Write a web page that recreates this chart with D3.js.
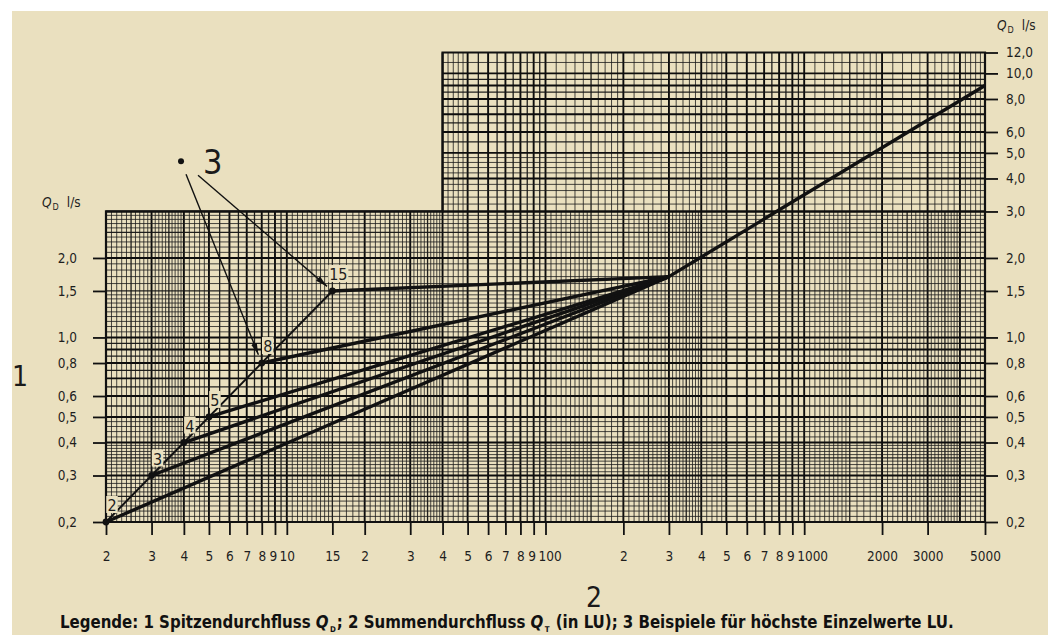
<!DOCTYPE html>
<html>
<head>
<meta charset="utf-8">
<script src="https://cdn.jsdelivr.net/npm/d3@7"></script>
<style>
  html, body { margin: 0; padding: 0; background: #fff; }
  svg { display: block; }
  .tick text { font-family: 'DejaVu Sans Condensed', 'Liberation Sans Narrow', sans-serif; font-size: 13.5px; fill: #1e1e1e; }
</style>
</head>
<body>
<svg id="chart" width="1056" height="635"></svg>
<script>
// values
const startLU = [2, 3, 4, 5, 8, 15];
const startQ = [0.2, 0.3, 0.4, 0.5, 0.8, 1.5];
const startLabels = ['2', '3', '4', '5', '8', '15'];
const joinLU = 300;
const joinQ = 1.7;
const endLU = 5000;
const endQ = 9.0;

const xTickValues = [2, 3, 4, 5, 6, 7, 8, 9, 10, 15, 20, 30, 40, 50, 60, 70, 80, 90, 100,
  200, 300, 400, 500, 600, 700, 800, 900, 1000, 2000, 3000, 5000];
const xTickLabels = ['2', '3', '4', '5', '6', '7', '8', '9', '10', '15', '2', '3', '4', '5', '6', '7', '8', '9', '100',
  '2', '3', '4', '5', '6', '7', '8', '9', '1000', '2000', '3000', '5000'];
const leftTicks = [0.2, 0.3, 0.4, 0.5, 0.6, 0.8, 1.0, 1.5, 2.0];
const rightTicks = [0.2, 0.3, 0.4, 0.5, 0.6, 0.8, 1.0, 1.5, 2.0, 3.0, 4.0, 5.0, 6.0, 8.0, 10.0, 12.0];

// annotation "3" (data coords of the marker dot)
const noteLU = 3.9;
const noteQ = 4.65;
const notePoints = [8, 15];

// legend pieces: [text, kind]
const legendParts = [
  ['Legende: 1 Spitzendurchfluss', 'n'], ['Q', 'i'], ['D', 's'], ['; 2 Summendurchfluss', 'n'],
  ['Q', 'i'], ['T', 's'], [' (in LU); 3 Beispiele für höchste Einzelwerte LU.', 'n']
];

const BG = '#eae0bf';
const INK = '#111';
const FONT = "'DejaVu Sans Condensed', 'Liberation Sans Narrow', sans-serif";

const svg = d3.select('#chart');
svg.append('rect').attr('x', 12).attr('y', 11).attr('width', 1036).attr('height', 624).attr('fill', BG);

const x = d3.scaleLog().domain([2, 5000]).range([106, 985]);
const y = d3.scaleLog().domain([0.2, 12]).range([522, 52.5]);

const LU_SPLIT = 40; // left edge of the tall part
const Q_SPLIT = 3; // top of the low part

// log paper values between lo and hi, steps per mantissa band
const DENSE = [[1, 1.5, 0.05], [1.5, 2, 0.1], [2, 4, 0.1], [4, 5, 0.2], [5, 10, 0.5]];
const COARSE = [[1, 2, 0.1], [2, 5, 0.2], [5, 10, 0.5]];
const paperValues = (lo, hi, steps) => {
  const out = [];
  for (let e = -1; e <= 4; e++) {
    const p = Math.pow(10, e);
    steps.forEach(([a, b, s]) => {
      const n = Math.round((b - a) / s);
      for (let k = 0; k < n; k++) {
        const m = +(a + k * s).toFixed(3);
        const v = +(m * p).toPrecision(6);
        if (v >= lo - 1e-9 && v <= hi + 1e-9) out.push({ v, m });
      }
    });
  }
  return out;
};

const lineStyle = (m) => {
  if (Math.abs(m - Math.round(m)) < 1e-6) return { w: 1.9, c: '#0d0d0d', o: 1 };
  if (Math.abs(m * 2 - Math.round(m * 2)) < 1e-6) return { w: 1.3, c: '#151515', o: 0.95 };
  return { w: 1, c: '#1c1c1c', o: 0.8 };
};

const grid = svg.append('g').attr('class', 'grid');

const vLine = (d, q0, q1) => {
  const st = lineStyle(d.m);
  grid.append('line')
    .attr('x1', x(d.v)).attr('x2', x(d.v))
    .attr('y1', y(q0)).attr('y2', y(q1))
    .attr('stroke', st.c).attr('stroke-width', st.w).attr('stroke-opacity', st.o);
};
const hLine = (d, l0, l1) => {
  const st = lineStyle(d.m);
  grid.append('line')
    .attr('x1', x(l0)).attr('x2', x(l1))
    .attr('y1', y(d.v)).attr('y2', y(d.v))
    .attr('stroke', st.c).attr('stroke-width', st.w).attr('stroke-opacity', st.o);
};

// low part: dense paper
paperValues(2, 5000, DENSE).forEach((d) => vLine(d, 0.2, Q_SPLIT));
paperValues(0.2, Q_SPLIT, DENSE).forEach((d) => hLine(d, 2, 5000));
// tall part: coarser paper
paperValues(LU_SPLIT, 5000, COARSE).forEach((d) => vLine(d, Q_SPLIT, 12));
paperValues(Q_SPLIT, 12, COARSE).forEach((d) => hLine(d, LU_SPLIT, 5000));

// outline of the L shaped paper
const outline = d3.line()([
  [x(2), y(0.2)], [x(2), y(Q_SPLIT)], [x(LU_SPLIT), y(Q_SPLIT)], [x(LU_SPLIT), y(12)],
  [x(5000), y(12)], [x(5000), y(0.2)]
]) + 'Z';
svg.append('path').attr('d', outline).attr('fill', 'none').attr('stroke', INK).attr('stroke-width', 2.2);

// axes
const fmt = (d) => d3.format('.1f')(d).replace('.', ',');

const axB = svg.append('g').attr('transform', `translate(0,${y(0.2)})`)
  .call(d3.axisBottom(x).tickValues(xTickValues).tickFormat((d, i) => xTickLabels[i]).tickSize(13).tickPadding(16).tickSizeOuter(0));
const axL = svg.append('g').attr('transform', `translate(${x(2)},0)`)
  .call(d3.axisLeft(y).tickValues(leftTicks).tickFormat(fmt).tickSize(13).tickPadding(16).tickSizeOuter(0));
const axR = svg.append('g').attr('transform', `translate(${x(5000)},0)`)
  .call(d3.axisRight(y).tickValues(rightTicks).tickFormat(fmt).tickSize(13).tickPadding(8).tickSizeOuter(0));
[axB, axL, axR].forEach((a) => {
  a.select('.domain').remove();
  a.selectAll('.tick line').attr('stroke', INK).attr('stroke-width', 1.8);
});
// the "9" and "100"/"1000" labels sit tight together
axB.selectAll('.tick text')
  .attr('dx', (d, i) => (xTickLabels[i] === '9' && d < 1000 ? -2 : 0))
  .attr('text-anchor', (d) => (d === 100 || d === 1000 ? 'start' : 'middle'))
  .attr('x', (d) => (d === 100 || d === 1000 ? -7.5 : 0));

// unit labels
const unitLabel = (px, py) => {
  const t = svg.append('text').attr('x', px).attr('y', py)
    .attr('font-family', FONT).attr('font-size', 13.5).attr('fill', '#1e1e1e');
  t.append('tspan').attr('font-style', 'italic').text('Q');
  t.append('tspan').attr('font-size', 9).attr('dy', 3).attr('dx', 1).text('D');
  t.append('tspan').attr('dy', -3).attr('dx', 8).text('l/s');
};
unitLabel(42, 207);
unitLabel(997, 30);

// curves
const lineGen = d3.line().x((d) => x(d[0])).y((d) => y(d[1]));
const curves = svg.append('g');

// highest single values, Q = 0.1 * LU
curves.append('path')
  .attr('d', lineGen([[startLU[0], startQ[0]], [startLU[startLU.length - 1], startQ[startQ.length - 1]]]))
  .attr('fill', 'none').attr('stroke', INK).attr('stroke-width', 2);

startLU.forEach((lu, i) => {
  curves.append('path')
    .attr('d', lineGen([[lu, startQ[i]], [joinLU, joinQ]]))
    .attr('fill', 'none').attr('stroke', INK).attr('stroke-width', 3.4);
});
curves.append('path')
  .attr('d', lineGen([[joinLU, joinQ], [endLU, endQ]]))
  .attr('fill', 'none').attr('stroke', INK).attr('stroke-width', 3.4);

// point labels with paper-coloured boxes
startLU.forEach((lu, i) => {
  const cx = x(lu) + 6;
  const cy = y(startQ[i]) - 17;
  const w = startLabels[i].length * 8.5 + 3;
  svg.append('rect').attr('x', cx - w / 2).attr('y', cy - 9).attr('width', w).attr('height', 17).attr('fill', BG);
  svg.append('text').attr('x', cx).attr('y', cy + 6).attr('text-anchor', 'middle')
    .attr('font-family', FONT).attr('font-size', 16).attr('fill', '#1e1e1e')
    .text(startLabels[i]);
});

svg.selectAll('.pt').data(startLU).enter().append('circle')
  .attr('cx', (d) => x(d)).attr('cy', (d, i) => y(startQ[i])).attr('r', 3.4).attr('fill', INK);

// annotation 3 with arrows
svg.append('defs').append('marker')
  .attr('id', 'arr').attr('viewBox', '0 0 12 6').attr('refX', 12).attr('refY', 3)
  .attr('markerWidth', 12).attr('markerHeight', 6).attr('markerUnits', 'userSpaceOnUse').attr('orient', 'auto')
  .append('path').attr('d', 'M0,0 L12,3 L0,6 Z').attr('fill', INK);

const nx = x(noteLU);
const ny = y(noteQ);
svg.append('circle').attr('cx', nx).attr('cy', ny).attr('r', 3).attr('fill', INK);
svg.append('text').attr('x', nx + 22).attr('y', ny + 13)
  .attr('font-family', FONT).attr('font-size', 34).attr('fill', '#1a1a1a')
  .text('3');

const starts = [[nx + 5, ny + 13], [nx + 17, ny + 14]];
notePoints.forEach((lu, k) => {
  const i = startLU.indexOf(lu);
  const tx = x(lu);
  const ty = y(startQ[i]);
  const [sx, sy] = starts[k];
  const len = Math.hypot(tx - sx, ty - sy);
  const cut = k === 0 ? 9 : 7;
  svg.append('line')
    .attr('x1', sx).attr('y1', sy)
    .attr('x2', tx - (tx - sx) / len * cut).attr('y2', ty - (ty - sy) / len * cut)
    .attr('stroke', INK).attr('stroke-width', 1.4).attr('marker-end', 'url(#arr)');
});

// axis numbers
svg.append('text').attr('x', 20).attr('y', 386).attr('text-anchor', 'middle')
  .attr('font-family', FONT).attr('font-size', 28).attr('fill', '#1a1a1a').text('1');
svg.append('text').attr('x', 594).attr('y', 607).attr('text-anchor', 'middle')
  .attr('font-family', FONT).attr('font-size', 28).attr('fill', '#1a1a1a').text('2');

// legend: pieces laid out one after another, then stretched to the width of the reference
const legG = svg.append('g');
let cursor = 0;
legendParts.forEach(([txt, kind], k) => {
  const t = legG.append('text')
    .attr('x', cursor).attr('y', kind === 's' ? 4 : 0)
    .attr('font-family', FONT).attr('font-weight', 'bold')
    .attr('font-size', kind === 's' ? 8 : 17)
    .attr('font-style', kind === 'i' ? 'italic' : null)
    .attr('fill', '#111')
    .style('white-space', 'pre')
    .text(txt);
  const gap = kind === 'n' && k < legendParts.length - 1 ? 5 : kind === 'i' ? 1.5 : 1;
  cursor += t.node().getComputedTextLength() + gap;
});
const legScale = 895 / cursor;
legG.attr('transform', `translate(60,628) scale(${legScale},1)`);
</script>
</body>
</html>
